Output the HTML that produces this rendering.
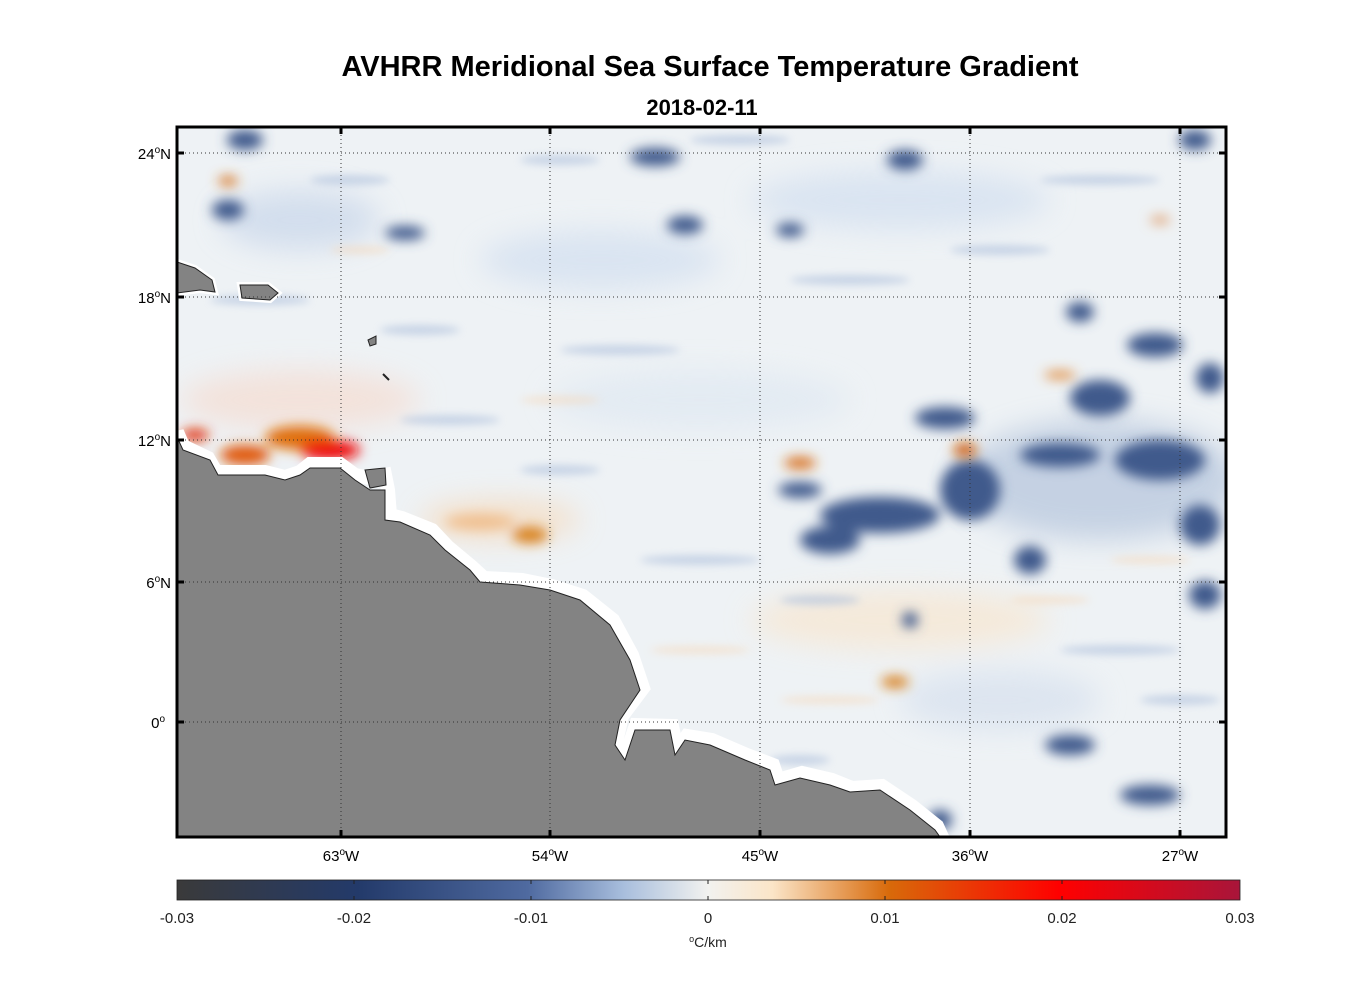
<!DOCTYPE html>
<html><head><meta charset="utf-8"><style>
body{margin:0;background:#fff;width:1356px;height:1000px;overflow:hidden;font-family:"Liberation Sans",sans-serif;}
.t{position:absolute;white-space:nowrap;color:#000}
</style></head><body>
<div class="t" style="left:0;width:1420px;text-align:center;top:51px;font-size:29px;font-weight:bold">AVHRR Meridional Sea Surface Temperature Gradient</div>
<div class="t" style="left:0;width:1404px;text-align:center;top:95px;font-size:22px;font-weight:bold">2018-02-11</div>
<svg width="1356" height="1000" style="position:absolute;left:0;top:0">
<defs>
<filter id="b" x="-50%" y="-50%" width="200%" height="200%"><feGaussianBlur stdDeviation="6"/></filter>
<filter id="b3" x="-50%" y="-50%" width="200%" height="200%"><feGaussianBlur stdDeviation="4"/></filter>
<filter id="b2" x="-50%" y="-50%" width="200%" height="200%"><feGaussianBlur stdDeviation="14"/></filter>
<clipPath id="c"><rect x="177" y="127" width="1049" height="710"/></clipPath>
<linearGradient id="cb" x1="0" x2="1">
<stop offset="0" stop-color="#3a3a3a"/><stop offset="0.17" stop-color="#233a6a"/><stop offset="0.33" stop-color="#4f6aa0"/>
<stop offset="0.42" stop-color="#a8bedd"/><stop offset="0.5" stop-color="#f2f2ef"/><stop offset="0.56" stop-color="#fbe5c8"/>
<stop offset="0.67" stop-color="#d86a0a"/><stop offset="0.83" stop-color="#ff0000"/><stop offset="1" stop-color="#a8153a"/>
</linearGradient>
</defs>
<g clip-path="url(#c)">
<rect x="177" y="127" width="1049" height="710" fill="#eef2f5"/>
<g filter="url(#b2)" opacity="0.7">
<ellipse cx="300" cy="220" rx="80" ry="30" fill="#c8d6ea"/>
<ellipse cx="600" cy="260" rx="120" ry="30" fill="#d2dff0"/>
<ellipse cx="900" cy="200" rx="150" ry="30" fill="#d2dff0"/>
<ellipse cx="300" cy="400" rx="120" ry="30" fill="#f5dcd0"/>
<ellipse cx="500" cy="520" rx="80" ry="20" fill="#f6d8b8"/>
<ellipse cx="900" cy="620" rx="150" ry="30" fill="#f8e6cf"/>
<ellipse cx="1100" cy="480" rx="140" ry="60" fill="#b4c4dc"/>
<ellipse cx="1000" cy="700" rx="100" ry="30" fill="#d6e0ee"/>
<ellipse cx="700" cy="400" rx="150" ry="30" fill="#dfe8f2"/>
</g>
<g filter="url(#b3)" opacity="0.55" fill="#a9bcda">
<ellipse cx="260" cy="300" rx="50" ry="5"/><ellipse cx="420" cy="330" rx="40" ry="5"/>
<ellipse cx="620" cy="350" rx="60" ry="5"/><ellipse cx="850" cy="280" rx="60" ry="5"/>
<ellipse cx="1000" cy="250" rx="50" ry="5"/><ellipse cx="1100" cy="180" rx="60" ry="5"/>
<ellipse cx="450" cy="420" rx="50" ry="5"/><ellipse cx="560" cy="470" rx="40" ry="5"/>
<ellipse cx="700" cy="560" rx="60" ry="5"/><ellipse cx="820" cy="600" rx="40" ry="5"/>
<ellipse cx="1120" cy="650" rx="60" ry="5"/><ellipse cx="1180" cy="700" rx="40" ry="5"/>
<ellipse cx="800" cy="760" rx="30" ry="5"/><ellipse cx="350" cy="180" rx="40" ry="5"/>
<ellipse cx="740" cy="140" rx="50" ry="5"/><ellipse cx="560" cy="160" rx="40" ry="5"/>
</g>
<g filter="url(#b3)" opacity="0.5" fill="#f6d6b4">
<ellipse cx="560" cy="400" rx="40" ry="4"/><ellipse cx="700" cy="650" rx="50" ry="4"/>
<ellipse cx="1050" cy="600" rx="40" ry="4"/><ellipse cx="360" cy="250" rx="30" ry="4"/>
<ellipse cx="830" cy="700" rx="50" ry="4"/><ellipse cx="1150" cy="560" rx="40" ry="4"/>
</g>
<g filter="url(#b)" fill="#3f5a8c">
<ellipse cx="245" cy="140" rx="18" ry="10"/><ellipse cx="228" cy="210" rx="16" ry="10"/>
<ellipse cx="655" cy="157" rx="25" ry="9"/><ellipse cx="905" cy="160" rx="18" ry="10"/>
<ellipse cx="685" cy="225" rx="18" ry="9"/><ellipse cx="790" cy="230" rx="14" ry="7"/>
<ellipse cx="405" cy="233" rx="20" ry="7"/><ellipse cx="1195" cy="140" rx="16" ry="10"/>
<ellipse cx="1080" cy="312" rx="14" ry="10"/><ellipse cx="1155" cy="345" rx="28" ry="12"/>
<ellipse cx="1210" cy="378" rx="14" ry="15"/><ellipse cx="1100" cy="398" rx="30" ry="18"/>
<ellipse cx="945" cy="418" rx="30" ry="11"/><ellipse cx="1060" cy="455" rx="40" ry="12"/>
<ellipse cx="1160" cy="460" rx="45" ry="20"/><ellipse cx="970" cy="490" rx="30" ry="30"/>
<ellipse cx="880" cy="515" rx="60" ry="18"/><ellipse cx="830" cy="540" rx="30" ry="14"/>
<ellipse cx="800" cy="490" rx="22" ry="8"/><ellipse cx="1030" cy="560" rx="16" ry="14"/>
<ellipse cx="1205" cy="595" rx="16" ry="14"/><ellipse cx="1070" cy="745" rx="25" ry="10"/>
<ellipse cx="1150" cy="795" rx="30" ry="10"/><ellipse cx="1200" cy="525" rx="20" ry="20"/>
<ellipse cx="940" cy="820" rx="12" ry="10"/><ellipse cx="910" cy="620" rx="8" ry="8"/>
</g>
<g filter="url(#b)">
<ellipse cx="228" cy="181" rx="10" ry="5" fill="#d87a2a"/>
<ellipse cx="300" cy="438" rx="35" ry="12" fill="#e07010"/>
<ellipse cx="245" cy="455" rx="25" ry="10" fill="#e05a10"/>
<ellipse cx="330" cy="450" rx="30" ry="10" fill="#ee1010"/>
<ellipse cx="195" cy="435" rx="14" ry="6" fill="#e03010"/>
<ellipse cx="530" cy="535" rx="18" ry="8" fill="#d8801a"/>
<ellipse cx="480" cy="522" rx="35" ry="8" fill="#f0c090"/>
<ellipse cx="800" cy="463" rx="16" ry="6" fill="#d8701a"/>
<ellipse cx="965" cy="450" rx="12" ry="7" fill="#d06008"/>
<ellipse cx="1060" cy="375" rx="16" ry="4" fill="#e08a3a"/>
<ellipse cx="895" cy="682" rx="14" ry="6" fill="#d8801a"/>
<ellipse cx="1160" cy="220" rx="10" ry="4" fill="#e0a070"/>
</g>
<path d="M177,432 L183,446 L208,458 L216,472 L265,472 L285,477 L300,472 L310,464 L340,464 L355,475 L370,478 L385,475 L388,490 L390,515 L402,518 L432,530 L448,547 L472,567 L484,578 L522,580 L552,586 L583,596 L613,620 L632,655 L643,688 L622,716 L616,742 L626,755 L636,725 L672,726 L677,750 L687,736 L712,740 L747,755 L773,765 L778,780 L802,773 L832,780 L852,788 L882,786 L912,806 L937,826 L942,837 L177,837Z" fill="none" stroke="#fff" stroke-width="14"/>
<path d="M177,437 L183,450 L210,460 L218,475 L265,475 L285,480 L300,475 L310,468 L340,468 L355,480 L370,490 L385,490 L385,520 L400,522 L430,535 L445,550 L470,570 L480,582 L520,585 L550,590 L580,600 L610,625 L630,660 L640,690 L620,720 L615,745 L625,760 L635,730 L670,730 L675,755 L685,740 L710,745 L745,760 L770,770 L775,785 L800,778 L830,785 L850,792 L880,790 L910,810 L935,830 L940,837 L177,837Z" fill="#838383" stroke="#222" stroke-width="1"/>
<path d="M365,470 L385,468 L386,485 L370,488Z" fill="#838383" stroke="#222"/>
<path d="M177,262 L195,268 L212,280 L215,292 L200,290 L177,293Z" fill="#838383" stroke="#fff" stroke-width="6"/>
<path d="M177,262 L195,268 L212,280 L215,292 L200,290 L177,293Z" fill="#838383" stroke="#222"/>
<path d="M240,285 L268,285 L278,293 L270,300 L242,298Z" fill="#838383" stroke="#fff" stroke-width="6"/>
<path d="M240,285 L268,285 L278,293 L270,300 L242,298Z" fill="#838383" stroke="#222"/>
<path d="M368,340 L376,336 L376,344 L370,346Z" fill="#838383" stroke="#222"/>
<path d="M383,374 L389,380" stroke="#222" stroke-width="2"/>
</g>
<g stroke="#333" stroke-width="1" stroke-dasharray="1,3">
<line x1="341" y1="127" x2="341" y2="837"/><line x1="550" y1="127" x2="550" y2="837"/><line x1="760" y1="127" x2="760" y2="837"/><line x1="970" y1="127" x2="970" y2="837"/><line x1="1180" y1="127" x2="1180" y2="837"/>
<line x1="177" y1="153" x2="1226" y2="153"/><line x1="177" y1="297" x2="1226" y2="297"/><line x1="177" y1="440" x2="1226" y2="440"/><line x1="177" y1="582" x2="1226" y2="582"/><line x1="177" y1="722" x2="1226" y2="722"/>
</g>
<rect x="177" y="127" width="1049" height="710" fill="none" stroke="#000" stroke-width="3"/>
<g stroke="#000" stroke-width="3">
<path d="M341,127v7M550,127v7M760,127v7M970,127v7M1180,127v7M341,837v-7M550,837v-7M760,837v-7M970,837v-7M1180,837v-7"/>
<path d="M177,153h7M177,297h7M177,440h7M177,582h7M177,722h7M1226,153h-7M1226,297h-7M1226,440h-7M1226,582h-7M1226,722h-7"/>
</g>
<g font-family="Liberation Sans,sans-serif" font-size="15" fill="#000" text-anchor="middle">
<text x="341" y="861">63<tspan font-size="10" dy="-6">o</tspan><tspan dy="6">W</tspan></text>
<text x="550" y="861">54<tspan font-size="10" dy="-6">o</tspan><tspan dy="6">W</tspan></text>
<text x="760" y="861">45<tspan font-size="10" dy="-6">o</tspan><tspan dy="6">W</tspan></text>
<text x="970" y="861">36<tspan font-size="10" dy="-6">o</tspan><tspan dy="6">W</tspan></text>
<text x="1180" y="861">27<tspan font-size="10" dy="-6">o</tspan><tspan dy="6">W</tspan></text>
</g>
<g font-family="Liberation Sans,sans-serif" font-size="15" fill="#000" text-anchor="end">
<text x="171" y="159">24<tspan font-size="10" dy="-6">o</tspan><tspan dy="6">N</tspan></text>
<text x="171" y="303">18<tspan font-size="10" dy="-6">o</tspan><tspan dy="6">N</tspan></text>
<text x="171" y="446">12<tspan font-size="10" dy="-6">o</tspan><tspan dy="6">N</tspan></text>
<text x="171" y="588">6<tspan font-size="10" dy="-6">o</tspan><tspan dy="6">N</tspan></text>
<text x="165" y="728">0<tspan font-size="10" dy="-6">o</tspan></text>
</g>
<rect x="177" y="880" width="1063" height="20" fill="url(#cb)" stroke="#222" stroke-width="0.8"/>
<g stroke="#222" stroke-width="1"><path d="M354,900v-4M531,900v-4M708,900v-4M885,900v-4M1062,900v-4M354,880v4M531,880v4M708,880v4M885,880v4M1062,880v4"/></g>
<g font-family="Liberation Sans,sans-serif" font-size="15" fill="#222" text-anchor="middle">
<text x="177" y="923">-0.03</text><text x="354" y="923">-0.02</text><text x="531" y="923">-0.01</text><text x="708" y="923">0</text><text x="885" y="923">0.01</text><text x="1062" y="923">0.02</text><text x="1240" y="923">0.03</text>
<text x="708" y="947" font-size="14"><tspan font-size="9" dy="-5">o</tspan><tspan dy="5">C/km</tspan></text>
</g>
</svg>
</body></html>
